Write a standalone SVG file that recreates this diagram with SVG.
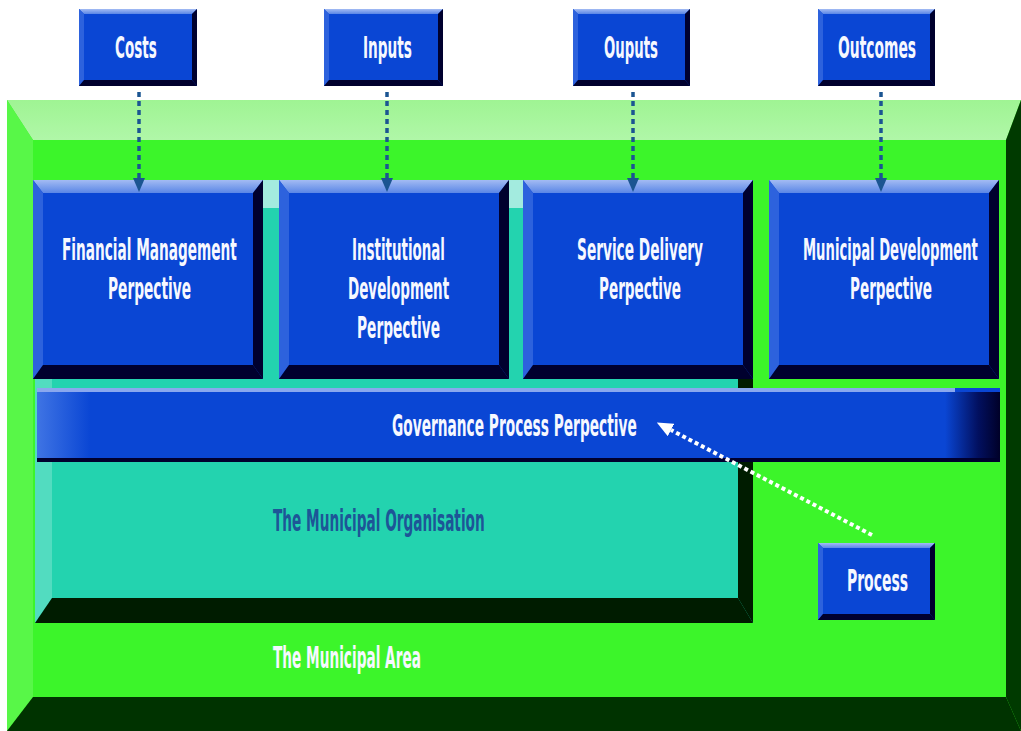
<svg xmlns="http://www.w3.org/2000/svg" width="1021" height="731" viewBox="0 0 1021 731">
<style>
.face{fill:#0a46d4}
.hi{fill:url(#hiG)}
.ls{fill:#2d62dd}
.lo{fill:#00002e}
.t{font-family:"Liberation Sans Narrow","DejaVu Sans Condensed","Liberation Sans",sans-serif;font-weight:bold;font-size:30px;fill:#f6f8ff}
.org{fill:#1d5597}
.blue{fill:none;stroke:#1b5592;stroke-width:3.5;stroke-dasharray:5 4}
.white{fill:none;stroke:#ffffff;stroke-width:4;stroke-dasharray:4 3}
</style>
<defs>
<linearGradient id="hiG" x1="0" y1="0" x2="0" y2="1">
<stop offset="0" stop-color="#a3bbf3"/>
<stop offset="1" stop-color="#5a86e6"/>
</linearGradient>
<linearGradient id="govL" x1="0" y1="0" x2="1" y2="0">
<stop offset="0" stop-color="#3f74e4"/>
<stop offset="1" stop-color="#0a46d4"/>
</linearGradient>
<linearGradient id="govR" x1="0" y1="0" x2="1" y2="0">
<stop offset="0" stop-color="#0a46d4"/>
<stop offset="0.6" stop-color="#021060"/>
<stop offset="1" stop-color="#000028"/>
</linearGradient>
<linearGradient id="greenTop" x1="0" y1="0" x2="0" y2="1">
<stop offset="0" stop-color="#9ff493"/>
<stop offset="1" stop-color="#b0f7a8"/>
</linearGradient>
<marker id="ab" markerUnits="userSpaceOnUse" markerWidth="14" markerHeight="12" viewBox="0 0 14 12" refX="0" refY="6" orient="auto">
<path d="M0,0 L14,6 L0,12 z" fill="#1b5592"/>
</marker>
<marker id="aw" markerUnits="userSpaceOnUse" markerWidth="16" markerHeight="14" viewBox="0 0 16 14" refX="0" refY="7" orient="auto">
<path d="M0,0 L16,7 L0,14 z" fill="#ffffff"/>
</marker>
</defs>

<g id="municipal-area">
<rect x="7" y="100" width="1014" height="631" fill="#3cf52a"/>
<polygon points="7,100 1021,100 1006,140 33,140" fill="url(#greenTop)"/>
<polygon points="7,100 33,140 33,697 7,731" fill="#58f748"/>
<polygon points="7,731 33,697 1006,697 1021,731" fill="#003300"/>
<polygon points="1021,100 1021,731 1006,697 1006,140" fill="#003a00"/>
<text class="t" transform="translate(273,668) scale(0.55,1)" textLength="269" lengthAdjust="spacingAndGlyphs">The Municipal Area</text>
</g>

<g id="municipal-organisation">
<rect x="35" y="180" width="718" height="443" fill="#23d3af"/>
<polygon points="35,180 753,180 738,208 52,208" fill="#a3ebdf"/>
<polygon points="35,180 52,208 52,598 35,623" fill="#52dcc0"/>
<polygon points="35,623 52,598 738,598 753,623" fill="#001c00"/>
<polygon points="753,180 753,623 738,598 738,208" fill="#001c00"/>
<text class="t org" transform="translate(273,531) scale(0.55,1)" textLength="385" lengthAdjust="spacingAndGlyphs">The Municipal Organisation</text>
</g>

<g id="financial-management">
<rect class="face" x="33" y="180" width="230" height="199"/>
<polygon class="hi" points="33,180 263,180 253,193 43,193"/>
<polygon class="ls" points="33,180 43,193 43,365 33,379"/>
<polygon class="lo" points="33,379 43,365 253,365 263,379"/>
<polygon class="lo" points="263,180 263,379 253,365 253,193"/>
<text class="t" transform="translate(62,260) scale(0.55,1)" textLength="318" lengthAdjust="spacingAndGlyphs">Financial Management</text>
<text class="t" transform="translate(108,299) scale(0.55,1)" textLength="151" lengthAdjust="spacingAndGlyphs">Perpective</text>
</g>

<g id="institutional-development">
<rect class="face" x="279" y="180" width="230" height="199"/>
<polygon class="hi" points="279,180 509,180 499,193 289,193"/>
<polygon class="ls" points="279,180 289,193 289,365 279,379"/>
<polygon class="lo" points="279,379 289,365 499,365 509,379"/>
<polygon class="lo" points="509,180 509,379 499,365 499,193"/>
<text class="t" transform="translate(352,260) scale(0.55,1)" textLength="169" lengthAdjust="spacingAndGlyphs">Institutional</text>
<text class="t" transform="translate(348,299) scale(0.55,1)" textLength="184" lengthAdjust="spacingAndGlyphs">Development</text>
<text class="t" transform="translate(357,338) scale(0.55,1)" textLength="151" lengthAdjust="spacingAndGlyphs">Perpective</text>
</g>

<g id="service-delivery">
<rect class="face" x="523" y="180" width="230" height="199"/>
<polygon class="hi" points="523,180 753,180 743,193 533,193"/>
<polygon class="ls" points="523,180 533,193 533,365 523,379"/>
<polygon class="lo" points="523,379 533,365 743,365 753,379"/>
<polygon class="lo" points="753,180 753,379 743,365 743,193"/>
<text class="t" transform="translate(577,260) scale(0.55,1)" textLength="229" lengthAdjust="spacingAndGlyphs">Service Delivery</text>
<text class="t" transform="translate(599,299) scale(0.55,1)" textLength="149" lengthAdjust="spacingAndGlyphs">Perpective</text>
</g>

<g id="municipal-development">
<rect class="face" x="769" y="180" width="230" height="199"/>
<polygon class="hi" points="769,180 999,180 989,193 779,193"/>
<polygon class="ls" points="769,180 779,193 779,365 769,379"/>
<polygon class="lo" points="769,379 779,365 989,365 999,379"/>
<polygon class="lo" points="999,180 999,379 989,365 989,193"/>
<text class="t" transform="translate(803,260) scale(0.55,1)" textLength="318" lengthAdjust="spacingAndGlyphs">Municipal Development</text>
<text class="t" transform="translate(850,299) scale(0.55,1)" textLength="149" lengthAdjust="spacingAndGlyphs">Perpective</text>
</g>

<g id="governance-process">
<rect class="face" x="37" y="388" width="963" height="74"/>
<rect x="37" y="392" width="53" height="66" fill="url(#govL)"/>
<rect x="945" y="392" width="55" height="70" fill="url(#govR)"/>
<rect x="37" y="388" width="918" height="4" fill="#8aa8ee"/>
<rect x="37" y="458" width="963" height="4" fill="#00002e"/>
<text class="t" transform="translate(392,436) scale(0.55,1)" textLength="445" lengthAdjust="spacingAndGlyphs">Governance Process Perpective</text>
</g>

<g id="costs">
<rect class="face" x="79" y="9" width="118" height="77"/>
<polygon class="hi" points="79,9 197,9 192,14 84,14"/>
<polygon class="ls" points="79,9 84,14 84,80 79,86"/>
<polygon class="lo" points="79,86 84,80 192,80 197,86"/>
<polygon class="lo" points="197,9 197,86 192,80 192,14"/>
<text class="t" transform="translate(115,58) scale(0.55,1)" textLength="76" lengthAdjust="spacingAndGlyphs">Costs</text>
</g>

<g id="inputs">
<rect class="face" x="324" y="9" width="119" height="77"/>
<polygon class="hi" points="324,9 443,9 438,14 329,14"/>
<polygon class="ls" points="324,9 329,14 329,80 324,86"/>
<polygon class="lo" points="324,86 329,80 438,80 443,86"/>
<polygon class="lo" points="443,9 443,86 438,80 438,14"/>
<text class="t" transform="translate(363,58) scale(0.55,1)" textLength="89" lengthAdjust="spacingAndGlyphs">Inputs</text>
</g>

<g id="ouputs">
<rect class="face" x="573" y="9" width="117" height="77"/>
<polygon class="hi" points="573,9 690,9 685,14 578,14"/>
<polygon class="ls" points="573,9 578,14 578,80 573,86"/>
<polygon class="lo" points="573,86 578,80 685,80 690,86"/>
<polygon class="lo" points="690,9 690,86 685,80 685,14"/>
<text class="t" transform="translate(604,58) scale(0.55,1)" textLength="98" lengthAdjust="spacingAndGlyphs">Ouputs</text>
</g>

<g id="outcomes">
<rect class="face" x="818" y="9" width="117" height="77"/>
<polygon class="hi" points="818,9 935,9 930,14 823,14"/>
<polygon class="ls" points="818,9 823,14 823,80 818,86"/>
<polygon class="lo" points="818,86 823,80 930,80 935,86"/>
<polygon class="lo" points="935,9 935,86 930,80 930,14"/>
<text class="t" transform="translate(838,58) scale(0.55,1)" textLength="142" lengthAdjust="spacingAndGlyphs">Outcomes</text>
</g>

<g id="process">
<rect class="face" x="818" y="543" width="117" height="77"/>
<polygon class="hi" points="818,543 935,543 930,548 823,548"/>
<polygon class="ls" points="818,543 823,548 823,614 818,620"/>
<polygon class="lo" points="818,620 823,614 930,614 935,620"/>
<polygon class="lo" points="935,543 935,620 930,614 930,548"/>
<text class="t" transform="translate(847,591) scale(0.55,1)" textLength="111" lengthAdjust="spacingAndGlyphs">Process</text>
</g>

<g id="connectors">
<line class="blue" x1="139" y1="92" x2="139" y2="178" marker-end="url(#ab)"/>
<line class="blue" x1="387" y1="92" x2="387" y2="178" marker-end="url(#ab)"/>
<line class="blue" x1="633" y1="92" x2="633" y2="178" marker-end="url(#ab)"/>
<line class="blue" x1="881" y1="92" x2="881" y2="178" marker-end="url(#ab)"/>
<line class="white" x1="872" y1="535" x2="671" y2="430" marker-end="url(#aw)"/>
</g>
</svg>
